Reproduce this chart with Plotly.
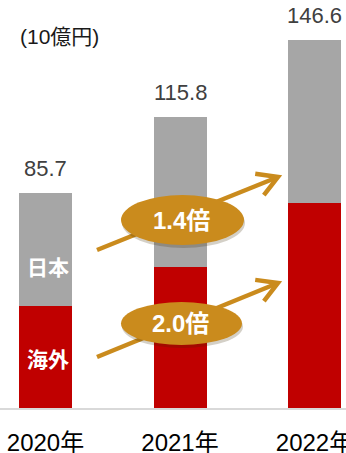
import math
import plotly.graph_objects as go

# Sales by region (10億円)
categories = ["2020年", "2021年", "2022年"]
overseas = [40.6, 56.2, 81.5]   # 海外
japan = [45.1, 59.6, 65.1]      # 日本
totals = [85.7, 115.8, 146.6]
growth_labels = ["1.4倍", "2.0倍"]   # 日本, 海外 growth 2020 -> 2022
unit_label = "(10億円)"

RED = "#C00000"
GRAY = "#A6A6A6"
GOLD = "#CA8B1D"
FONT = "Liberation Sans, Arial, Noto Sans CJK JP, sans-serif"

W, H = 346, 453
BASE = 408          # baseline, px from top
X_STEP = 134.5      # px per category
X_FIRST = 45.5      # px of first category centre
Y_STEP = 2.51       # px per unit

x = list(range(len(categories)))


def at(px, py):
    """Layout point (px from left/top) -> axis coordinates."""
    return (px - X_FIRST) / X_STEP, (BASE - py) / Y_STEP


fig = go.Figure()
fig.add_trace(go.Bar(x=x, y=overseas, name="海外", marker=dict(color=RED, line=dict(width=0)),
                     width=0.394, hoverinfo="skip"))
fig.add_trace(go.Bar(x=x, y=japan, name="日本", marker=dict(color=GRAY, line=dict(width=0)),
                     width=0.394, hoverinfo="skip"))

shapes = []
annotations = []

# totals above each stack
for xi, t in zip(x, totals):
    annotations.append(dict(x=xi, y=t, xref="x", yref="y", text=f"{t:.1f}", showarrow=False,
                            yanchor="bottom", yshift=10,
                            font=dict(family=FONT, size=22, color="#404040")))

# segment names inside the first bar
ax, ay = at(47.5, 267.5)
annotations.append(dict(x=ax, y=ay, xref="x", yref="y", text="<b>日本</b>", showarrow=False,
                        font=dict(family=FONT, size=21, color="white")))
ax, ay = at(48, 359)
annotations.append(dict(x=ax, y=ay, xref="x", yref="y", text="<b>海外</b>", showarrow=False,
                        font=dict(family=FONT, size=21, color="white")))


def arrow(p0, p1, head=23, spread=30):
    (x0, y0), (x1, y1) = p0, p1
    ang = math.atan2(y0 - y1, x0 - x1)
    a1 = (x1 + head * math.cos(ang + math.radians(spread)), y1 + head * math.sin(ang + math.radians(spread)))
    a2 = (x1 + head * math.cos(ang - math.radians(spread)), y1 + head * math.sin(ang - math.radians(spread)))
    s0, s1 = at(x0, y0), at(x1 - 2 * math.cos(ang + math.pi), y1 - 2 * math.sin(ang + math.pi))
    shapes.append(dict(type="line", xref="x", yref="y", x0=s0[0], y0=s0[1], x1=s1[0], y1=s1[1],
                       line=dict(color=GOLD, width=4.5)))
    pa, pt, pb = at(*a1), at(x1, y1), at(*a2)
    shapes.append(dict(type="path", xref="x", yref="y",
                       path=f"M {pa[0]} {pa[1]} L {pt[0]} {pt[1]} L {pb[0]} {pb[1]}",
                       line=dict(color=GOLD, width=4.5)))


def badge(left, top, right, bottom, label):
    sx0, sy0 = at(left + 1, bottom + 3)
    sx1, sy1 = at(right + 1, top + 3)
    shapes.append(dict(type="circle", xref="x", yref="y", x0=sx0, x1=sx1, y0=sy0, y1=sy1,
                       fillcolor="rgba(60,40,0,0.22)", line=dict(width=0)))
    x0, y0 = at(left, bottom)
    x1, y1 = at(right, top)
    shapes.append(dict(type="circle", xref="x", yref="y", x0=x0, x1=x1, y0=y0, y1=y1,
                       fillcolor=GOLD, line=dict(width=0)))
    cx, cy = at((left + right) / 2 - 1, (top + bottom) / 2)
    annotations.append(dict(x=cx, y=cy, xref="x", yref="y", text=f"<b>{label}</b>", showarrow=False,
                            font=dict(family=FONT, size=24, color="white")))


arrow((97, 250), (278, 177))
badge(121, 195, 244, 245, growth_labels[0])
arrow((97, 357), (278, 283))
badge(121, 302, 242, 345, growth_labels[1])

annotations.append(dict(x=18 / W, y=1 - 36 / BASE, xref="paper", yref="paper", text=unit_label,
                        showarrow=False, xanchor="left", yanchor="middle",
                        font=dict(family=FONT, size=21, color="#1A1A1A")))

fig.update_layout(
    width=W, height=H,
    autosize=False,
    margin=dict(l=0, r=0, t=0, b=H - BASE, pad=0, autoexpand=False),
    barmode="stack",
    bargap=0,
    showlegend=False,
    paper_bgcolor="white",
    plot_bgcolor="white",
    shapes=shapes,
    annotations=annotations,
    xaxis=dict(range=[-X_FIRST / X_STEP, (W - X_FIRST) / X_STEP], tickmode="array",
               tickvals=x, ticktext=categories, showgrid=False, zeroline=False,
               showline=True, linecolor="#D9D9D9", linewidth=2,
               ticks="outside", ticklen=12, tickcolor="rgba(0,0,0,0)",
               ticklabeloverflow="allow", automargin=False,
               tickfont=dict(family=FONT, size=24, color="#000000"), fixedrange=True),
    yaxis=dict(range=[0, BASE / Y_STEP], visible=False, fixedrange=True),
)

fig.write_html("out.html")
